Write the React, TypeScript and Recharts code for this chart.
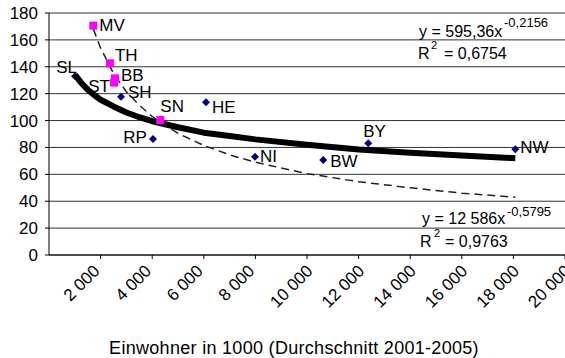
import React from 'react';
import { ScatterChart, Scatter, XAxis, YAxis, CartesianGrid } from 'recharts';

// Bundesländer ohne Stadtstaaten: West (blau) und Ost (magenta)
const westNames = ['SL', 'SH', 'HE', 'RP', 'NI', 'BW', 'BY', 'NW'];
const westPop = [1010, 2790, 6085, 4030, 7985, 10630, 12375, 18075];
const westVal = [133, 117.7, 113.6, 86.3, 73.1, 70.7, 83.1, 78.6];

const eastNames = ['MV', 'TH', 'BB', 'ST', 'SN'];
const eastPop = [1717, 2364, 2558, 2519, 4314];
const eastVal = [170.6, 142.6, 131.4, 128.2, 100.4];

// Trendlinien
const trendAllX = [1010, 1250, 1500, 1750, 2000, 2500, 3000, 3500, 4000, 5000, 6000, 7000, 8000, 10000, 12000, 14000, 16000, 18075];
const trendAllY = [134, 128, 123, 119, 115.5, 110.5, 106, 102.5, 99.5, 95, 91, 88.5, 86, 82, 78.5, 76, 74, 72];
const trendEastX = [1717, 2000, 2500, 3000, 3500, 4000, 5000, 6000, 7000, 8000, 10000, 12000, 14000, 16000, 18075];
const trendEastY = [168, 154, 135, 121.5, 111.5, 103, 90.5, 81.5, 74.5, 69, 60.5, 54.5, 50, 46, 43];

const xTicks = [2000, 4000, 6000, 8000, 10000, 12000, 14000, 16000, 18000, 20000];
const yTicks = [0, 20, 40, 60, 80, 100, 120, 140, 160, 180];

const xTitle = 'Einwohner in 1000 (Durchschnitt 2001-2005)';

const font = '"Liberation Sans", Arial, Helvetica, sans-serif';

// label offset from marker: dx, dy, anchor
const labelPos: Record<string, [number, number, 'start' | 'end']> = {
  MV: [6, 5, 'start'],
  TH: [5, -2, 'start'],
  BB: [6, 3, 'start'],
  ST: [-4, 9, 'end'],
  SH: [7, 1, 'start'],
  SL: [2, -3, 'end'],
  SN: [0, -8, 'start'],
  HE: [6, 11, 'start'],
  RP: [-6, 4, 'end'],
  NI: [5, 5, 'start'],
  BW: [7, 7, 'start'],
  BY: [-5, -6, 'start'],
  NW: [5, 4, 'start'],
};

const west = westNames.map((name, i) => ({ name, x: westPop[i], y: westVal[i] }));
const east = eastNames.map((name, i) => ({ name, x: eastPop[i], y: eastVal[i] }));
const trendAll = trendAllX.map((x, i) => ({ x, y: trendAllY[i] }));
const trendEast = trendEastX.map((x, i) => ({ x, y: trendEastY[i] }));

const fmt = (v: number) => String(v).replace(/\B(?=(\d{3})+(?!\d))/g, ' ');

function PointLabel({ cx, cy, name }: { cx: number; cy: number; name: string }) {
  const [dx, dy, anchor] = labelPos[name] ?? [5, 5, 'start'];
  return (
    <text x={cx + dx} y={cy + dy} textAnchor={anchor} fontSize={17} fontFamily={font} fill="#000">
      {name}
    </text>
  );
}

const diamond = (props: any) => {
  const { cx, cy } = props;
  const r = 4;
  return (
    <g>
      <path d={`M${cx},${cy - r}L${cx + r},${cy}L${cx},${cy + r}L${cx - r},${cy}Z`} fill="#000080" />
      <PointLabel cx={cx} cy={cy} name={props.payload.name} />
    </g>
  );
};

const square = (props: any) => {
  const { cx, cy } = props;
  return (
    <g>
      <rect x={cx - 4} y={cy - 4} width={8} height={8} fill="#FF00FF" />
      <PointLabel cx={cx} cy={cy} name={props.payload.name} />
    </g>
  );
};

const noDot = () => <g />;

// Excel: left edge of each rotated label sits at a fixed spot, top edge at a fixed height
const XTick = ({ x, y, payload }: any) => {
  const label = fmt(payload.value);
  const fs = 17;
  const len = [...label].reduce((s, c) => s + (c === ' ' ? 0.278 : 0.556), 0) * fs;
  const ax = x - 30 + len * 0.707;
  const ay = y + 11;
  return (
    <text x={ax} y={ay} transform={`rotate(-45, ${ax}, ${ay})`} textAnchor="end" fontSize={fs} fontFamily={font} fill="#000">
      {label}
    </text>
  );
};

export default function App() {
  return (
    <div style={{ position: 'absolute', left: 0, top: 0, width: 565, height: 358, background: '#fff', overflow: 'hidden' }}>
      <ScatterChart width={565} height={358} margin={{ top: 13, right: 0, bottom: 0, left: 0 }}>
        <CartesianGrid vertical={false} stroke="#333" strokeWidth={1} />
        <XAxis
          type="number"
          dataKey="x"
          domain={[0, 20000]}
          ticks={xTicks}
          interval={0}
          height={103}
          tick={<XTick />}
          tickSize={4}
          axisLine={{ stroke: '#000' }}
          tickLine={{ stroke: '#000' }}
        />
        <YAxis
          type="number"
          dataKey="y"
          domain={[0, 180]}
          ticks={yTicks}
          interval={0}
          width={49}
          tickSize={4}
          tickMargin={7}
          axisLine={{ stroke: '#000' }}
          tickLine={{ stroke: '#000' }}
          tick={{ fontSize: 17, fontFamily: font, fill: '#000' }}
        />
        <Scatter data={west} shape={diamond} isAnimationActive={false} />
        <Scatter
          data={trendAll}
          shape={noDot}
          line={{ stroke: '#000', strokeWidth: 6, strokeLinejoin: 'round' }}
          lineType="joint"
          isAnimationActive={false}
        />
        <Scatter
          data={trendEast}
          shape={noDot}
          line={{ stroke: '#222', strokeWidth: 1.5, strokeDasharray: '8 5' }}
          lineType="joint"
          isAnimationActive={false}
        />
        <Scatter data={east} shape={square} isAnimationActive={false} />
      </ScatterChart>
      <svg width={565} height={358} style={{ position: 'absolute', left: 0, top: 0, pointerEvents: 'none' }} fontFamily={font}>
        <text x={419} y={37} fontSize={16} fill="#000">y = 595,36x</text>
        <text x={504} y={27} fontSize={13} fill="#000">-0,2156</text>
        <text x={418} y={59} fontSize={16} fill="#000">R</text>
        <text x={431} y={49} fontSize={11} fill="#000">2</text>
        <text x={444} y={59} fontSize={16} fill="#000">= 0,6754</text>

        <text x={422} y={224} fontSize={16} fill="#000">y = 12 586x</text>
        <text x={507} y={216} fontSize={13} fill="#000">-0,5795</text>
        <text x={420} y={247} fontSize={16} fill="#000">R</text>
        <text x={434} y={237} fontSize={11} fill="#000">2</text>
        <text x={445} y={247} fontSize={16} fill="#000">= 0,9763</text>

        <text x={294} y={354} textAnchor="middle" fontSize={18} letterSpacing={0.3} fill="#000">{xTitle}</text>
      </svg>
    </div>
  );
}
